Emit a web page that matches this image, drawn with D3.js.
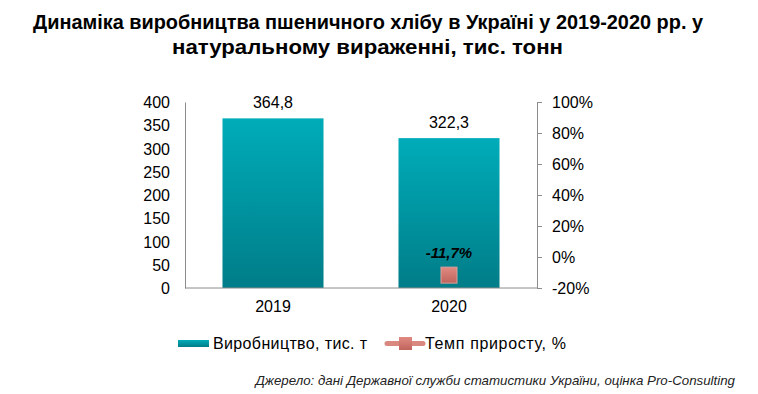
<!DOCTYPE html>
<html>
<head>
<meta charset="utf-8">
<script src="https://cdn.jsdelivr.net/npm/d3@7"></script>
<style>
  body { margin: 0; background: #fff; }
  svg text { font-family: "Liberation Sans", Arial, sans-serif; fill: #000; }
</style>
</head>
<body>
<div id="chart"></div>
<script>
// data
const years = ["2019", "2020"];
const production = [364.8, 322.3];
const growth = [null, -11.7];
const productionLabels = ["364,8", "322,3"];
const growthLabels = [null, "-11,7%"];
const leftTicks = [0, 50, 100, 150, 200, 250, 300, 350, 400];
const rightTicks = [-20, 0, 20, 40, 60, 80, 100];

const width = 758, height = 394;
const svg = d3.select("#chart").append("svg")
    .attr("width", width)
    .attr("height", height);

// gradients for bars and marker
const defs = svg.append("defs");
const barGrad = defs.append("linearGradient")
    .attr("id", "bar-grad")
    .attr("x1", 0).attr("y1", 0).attr("x2", 0).attr("y2", 1);
barGrad.append("stop").attr("offset", "0%").attr("stop-color", "#00acb9");
barGrad.append("stop").attr("offset", "100%").attr("stop-color", "#007d88");

const markGrad = defs.append("linearGradient")
    .attr("id", "mark-grad")
    .attr("x1", 0).attr("y1", 0).attr("x2", 0).attr("y2", 1);
markGrad.append("stop").attr("offset", "0%").attr("stop-color", "#e08a82");
markGrad.append("stop").attr("offset", "100%").attr("stop-color", "#c0645d");

// title (the original font is a condensed bold, so squeeze it to width)
const title = svg.append("g")
    .style("font-weight", "bold")
    .style("font-size", "21px");
title.append("text").attr("x", 33).attr("y", 29)
    .attr("textLength", 670).attr("lengthAdjust", "spacingAndGlyphs")
    .text("Динаміка виробництва пшеничного хлібу в Україні у 2019-2020 рр. у");
title.append("text").attr("x", 172).attr("y", 54)
    .attr("textLength", 391).attr("lengthAdjust", "spacingAndGlyphs")
    .text("натуральному вираженні, тис. тонн");

// scales
const plotLeft = 185, plotRight = 537, plotTop = 102, plotBottom = 288;
const x = d3.scaleBand().domain(years).range([plotLeft, plotRight]).paddingInner(0.426).paddingOuter(0.213);
const y = d3.scaleLinear().domain([0, 400]).range([plotBottom, plotTop]);
const y2 = d3.scaleLinear().domain([-20, 100]).range([plotBottom, plotTop]);

// left axis
const yAxis = svg.append("g")
    .attr("transform", `translate(${plotLeft},0)`)
    .call(d3.axisLeft(y).tickValues(leftTicks).tickSize(0).tickPadding(15));
yAxis.select(".domain").attr("stroke", "#8c8c8c");
yAxis.selectAll("text").style("font-size", "16px").attr("dy", "0.35em");

// right axis
const y2Axis = svg.append("g")
    .attr("transform", `translate(${plotRight},0)`)
    .call(d3.axisRight(y2).tickValues(rightTicks).tickSize(5).tickPadding(10).tickFormat(d => d + "%"));
y2Axis.select(".domain").attr("stroke", "#8c8c8c");
y2Axis.selectAll(".tick line").attr("stroke", "#8c8c8c");
y2Axis.selectAll("text").style("font-size", "16px").attr("dy", "0.35em");

// bars
svg.selectAll(".bar")
    .data(production)
    .enter().append("rect")
    .attr("class", "bar")
    .attr("x", (d, i) => x(years[i]))
    .attr("width", x.bandwidth())
    .attr("y", d => y(d))
    .attr("height", d => plotBottom - y(d))
    .attr("fill", "url(#bar-grad)");

svg.selectAll(".bar-label")
    .data(production)
    .enter().append("text")
    .attr("x", (d, i) => x(years[i]) + x.bandwidth() / 2)
    .attr("y", d => y(d) - 10)
    .attr("text-anchor", "middle")
    .style("font-size", "16px")
    .text((d, i) => productionLabels[i]);

// x axis
const xAxis = svg.append("g")
    .attr("transform", `translate(0,${plotBottom})`)
    .call(d3.axisBottom(x).tickSize(0).tickPadding(13));
xAxis.select(".domain").attr("stroke", "#8c8c8c").attr("d", `M${plotLeft},0H${plotRight}`);
xAxis.selectAll("text").style("font-size", "16px");

// growth markers
const gData = years.map((yr, i) => ({ yr, v: growth[i], label: growthLabels[i] })).filter(d => d.v !== null);
svg.selectAll(".mark")
    .data(gData)
    .enter().append("rect")
    .attr("x", d => x(d.yr) + x.bandwidth() / 2 - 8)
    .attr("y", d => y2(d.v) - 8)
    .attr("width", 16).attr("height", 16)
    .attr("fill", "url(#mark-grad)")
    .attr("stroke", "#d9a09a").attr("stroke-width", 1);

svg.selectAll(".mark-label")
    .data(gData)
    .enter().append("text")
    .attr("x", d => x(d.yr) + x.bandwidth() / 2)
    .attr("y", d => y2(d.v) - 17)
    .attr("text-anchor", "middle")
    .style("font-size", "15px")
    .style("font-weight", "bold")
    .style("font-style", "italic")
    .text(d => d.label);

// legend
const legend = svg.append("g");
legend.append("rect")
    .attr("x", 178).attr("y", 340).attr("width", 31).attr("height", 7)
    .attr("fill", "url(#bar-grad)");
legend.append("text")
    .attr("x", 213).attr("y", 349)
    .attr("textLength", 154)
    .style("font-size", "16px")
    .text("Виробництво, тис. т");
legend.append("line")
    .attr("x1", 387).attr("x2", 423).attr("y1", 343.5).attr("y2", 343.5)
    .attr("stroke", "#d98880").attr("stroke-width", 5).attr("stroke-linecap", "round");
legend.append("rect")
    .attr("x", 399).attr("y", 337).attr("width", 13).attr("height", 13)
    .attr("fill", "url(#mark-grad)");
legend.append("text")
    .attr("x", 425).attr("y", 349)
    .attr("textLength", 141)
    .style("font-size", "16px")
    .text("Темп приросту, %");

// source
svg.append("text")
    .attr("x", 735).attr("y", 385)
    .attr("text-anchor", "end")
    .style("font-size", "13.3px")
    .style("font-style", "italic")
    .style("fill", "#222")
    .text("Джерело: дані Державної служби статистики України, оцінка Pro-Consulting");
</script>
</body>
</html>
